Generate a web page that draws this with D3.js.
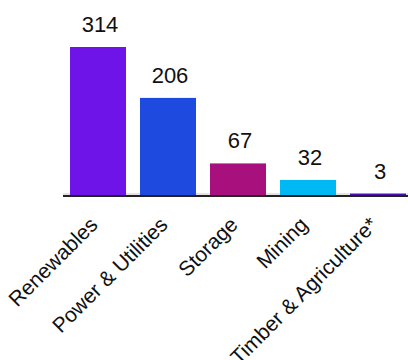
<!DOCTYPE html>
<html>
<head>
<meta charset="utf-8">
<script src="https://cdn.jsdelivr.net/npm/d3@7"></script>
<style>
  html, body { margin: 0; padding: 0; background: #fff; }
  svg { display: block; font-family: "Liberation Sans", Arial, sans-serif; }
</style>
</head>
<body>
<svg id="chart" width="408" height="360"></svg>
<script>
// Sector totals
const categories = ["Renewables", "Power & Utilities", "Storage", "Mining", "Timber & Agriculture*"];
const values = [314, 206, 67, 32, 3];
const colors = ["#6f14e8", "#1f4ae0", "#a8107e", "#00b8f4", "#4a0fb8"];

const svg = d3.select("#chart");
const baseY = 195;

const x = d3.scaleBand()
  .domain(categories)
  .range([63, 413])
  .paddingInner(0.2)
  .paddingOuter(0.1);

const y = d3.scaleLinear()
  .domain([0, 314])
  .range([baseY, 47]);

// zero line
svg.append("line")
  .attr("x1", 63).attr("x2", 408)
  .attr("y1", y(0) - 1).attr("y2", y(0) - 1)
  .attr("stroke", "#c8c8c8").attr("stroke-width", 1);

svg.append("g")
  .selectAll("rect")
  .data(values)
  .join("rect")
  .attr("x", (d, i) => x(categories[i]))
  .attr("width", x.bandwidth())
  .attr("y", d => y(d))
  .attr("height", d => y(0) - y(d))
  .attr("fill", (d, i) => colors[i]);

// value labels
svg.append("g")
  .selectAll("text")
  .data(values)
  .join("text")
  .attr("x", (d, i) => x(categories[i]) + x.bandwidth() / 2 + 2)
  .attr("y", d => y(d) - 15)
  .attr("text-anchor", "middle")
  .attr("font-size", 22)
  .attr("fill", "#111")
  .text(d => d);

// category axis
const axis = svg.append("g")
  .attr("transform", `translate(0,${baseY})`)
  .call(d3.axisBottom(x).tickSize(0).tickPadding(0));
axis.select(".domain").remove();
axis.selectAll("text")
  .attr("font-size", 21)
  .attr("font-family", "\"Liberation Sans\", Arial, sans-serif")
  .attr("fill", "#111")
  .attr("text-anchor", "end")
  .attr("dy", null)
  .attr("transform", "translate(1,31) rotate(-45)");

svg.append("line")
  .attr("x1", 63).attr("x2", 408)
  .attr("y1", baseY + 1).attr("y2", baseY + 1)
  .attr("stroke", "#222").attr("stroke-width", 2);
</script>
</body>
</html>
